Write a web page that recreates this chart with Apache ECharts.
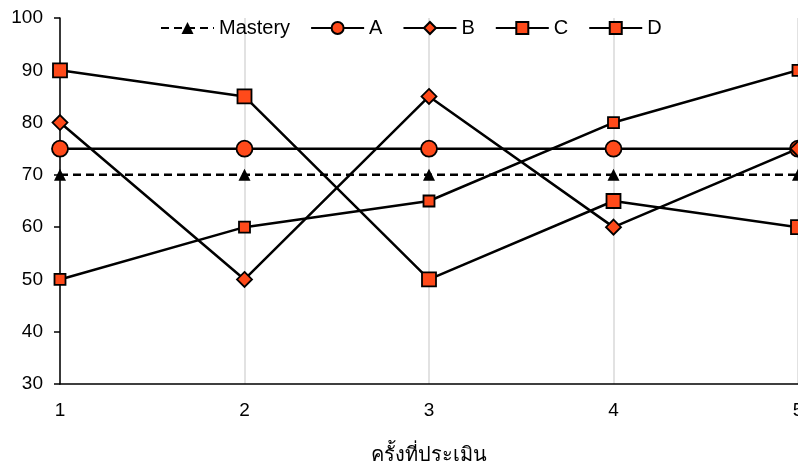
<!DOCTYPE html>
<html><head><meta charset="utf-8">
<script src="https://cdn.jsdelivr.net/npm/echarts@6/dist/echarts.min.js"></script>
<style>html,body{margin:0;padding:0;background:#fff}#c{width:798px;height:466px}</style>
</head><body><div id="c"></div>
<script>
var categories = ['1', '2', '3', '4', '5'];
var mastery = [70, 70, 70, 70, 70];
var seriesA = [75, 75, 75, 75, 75];
var seriesB = [80, 50, 85, 60, 75];
var seriesC = [50, 60, 65, 80, 90];
var seriesD = [90, 85, 50, 65, 60];
var xTitle = 'ครั้งที่ประเมิน';

var font = '"Liberation Sans", Arial, sans-serif';
var orange = '#ff4a1a';
function mk(name, data, symbol, size, dashed) {
  return {
    name: name, type: 'line', data: data, symbol: symbol, symbolSize: size,
    showAllSymbol: true,
    lineStyle: {color: '#000', width: 2.5, type: dashed ? [8, 5] : 'solid'},
    itemStyle: {color: dashed ? '#000' : orange, borderColor: '#000', borderWidth: dashed ? 0 : 1.8},
    emphasis: {disabled: true}, animation: false, z: 3
  };
}
var chart = echarts.init(document.getElementById('c'));
chart.setOption({
  animation: false,
  textStyle: {fontFamily: font},
  grid: {left: 60, right: 0, top: 18, bottom: 82, containLabel: false, outerBoundsMode: 'none'},
  legend: {
    top: 13, left: 155, itemWidth: 53, itemHeight: 15, itemGap: 20,
    textStyle: {fontSize: 20, color: '#000', fontFamily: font},
    data: ['Mastery', 'A', 'B', 'C', 'D']
  },
  xAxis: {
    type: 'category', data: categories, boundaryGap: false,
    name: xTitle, nameLocation: 'middle', nameGap: 61,
    nameTextStyle: {fontSize: 20, color: '#000', fontFamily: 'sans-serif'},
    axisLine: {lineStyle: {color: '#000', width: 1.5}},
    axisTick: {show: false},
    axisLabel: {fontSize: 19, color: '#000', margin: 17},
    splitLine: {show: true, lineStyle: {color: '#d9d9d9', width: 1.5}}
  },
  yAxis: {
    type: 'value', min: 30, max: 100, interval: 10,
    axisLine: {show: true, lineStyle: {color: '#000', width: 1.5}},
    axisTick: {show: true, length: 6, lineStyle: {color: '#000', width: 1.5}},
    axisLabel: {fontSize: 19, color: '#000', margin: 17},
    splitLine: {show: false}
  },
  series: [
    mk('Mastery', mastery, 'triangle', 12, true),
    mk('A', seriesA, 'circle', 16, false),
    mk('B', seriesB, 'diamond', 15, false),
    mk('C', seriesC, 'rect', 11, false),
    mk('D', seriesD, 'rect', 14, false)
  ]
});
</script></body></html>
